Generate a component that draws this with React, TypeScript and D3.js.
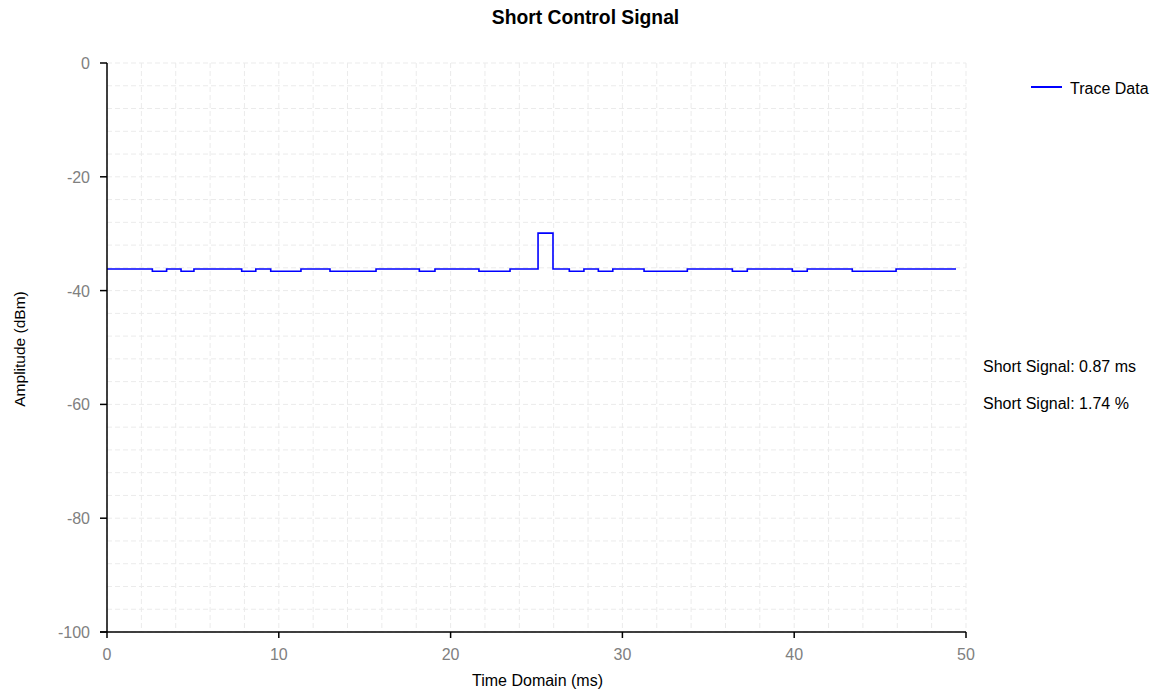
import React from "react";
import * as d3 from "d3";

const times = [0, 2.64, 3.47, 4.31, 5.06, 7.84, 8.66, 9.53, 11.29, 12.98, 15.66, 18.18, 19.09, 21.65, 23.46, 25.09, 25.96, 26.91, 27.76, 28.6, 29.44, 31.26, 33.78, 36.4, 37.27, 39.89, 40.76, 43.38, 45.93, 49.42];
const amps = [-36.2, -36.6, -36.2, -36.6, -36.2, -36.6, -36.2, -36.6, -36.2, -36.6, -36.2, -36.6, -36.2, -36.6, -36.2, -29.9, -36.2, -36.6, -36.2, -36.6, -36.2, -36.6, -36.2, -36.6, -36.2, -36.6, -36.2, -36.6, -36.2, -36.2];
const xTicks = [0, 10, 20, 30, 40, 50];
const yTicks = [0, -20, -40, -60, -80, -100];
const xGrid = d3.range(0, 51, 2);
const yGrid = d3.range(0, -101, -4);
const title = "Short Control Signal";
const xLabel = "Time Domain (ms)";
const yLabel = "Amplitude (dBm)";
const legendLabel = "Trace Data";
const notes = ["Short Signal: 0.87 ms", "Short Signal: 1.74 %"];

export default function App() {
  const W = 1160, H = 694;
  const L = 107, R = 966, T = 63, B = 632;
  const x = d3.scaleLinear().domain([0, 50]).range([L, R]);
  const y = d3.scaleLinear().domain([-100, 0]).range([B, T]);
  const pts = times.map((t, i) => [t, amps[i]] as [number, number]);
  const line = d3.line<[number, number]>().x(d => x(d[0])).y(d => y(d[1])).curve(d3.curveStepAfter);
  const font = "'Liberation Sans', Arial, sans-serif";
  return (
    <svg width={W} height={H} style={{ position: "absolute", left: 0, top: 0 }} fontFamily={font}>
      <rect width={W} height={H} fill="#fff" />
      <text x={585.5} y={23.5} textAnchor="middle" fontSize={19.3} fontWeight="bold" fill="#000">{title}</text>
      {xGrid.map(g => (
        <line key={"xg" + g} x1={x(g)} x2={x(g)} y1={T} y2={B} stroke="#ebebeb" strokeDasharray="5,3" />
      ))}
      {yGrid.map(g => (
        <line key={"yg" + g} x1={L} x2={R} y1={y(g)} y2={y(g)} stroke="#ebebeb" strokeDasharray="5,3" />
      ))}
      <path d={line(pts) || ""} fill="none" stroke="#0000ff" strokeWidth={1.6} />
      <line x1={L} x2={L} y1={T} y2={B} stroke="#000" strokeWidth={1.5} />
      <line x1={L - 7} x2={R} y1={B} y2={B} stroke="#000" strokeWidth={1.5} />
      {yTicks.map(t => (
        <g key={"yt" + t}>
          <line x1={L - 7} x2={L} y1={y(t)} y2={y(t)} stroke="#000" strokeWidth={1.5} />
          <text x={L - 17} y={y(t) + 6} textAnchor="end" fontSize={16} fill="#808080">{t}</text>
        </g>
      ))}
      {xTicks.map(t => (
        <g key={"xt" + t}>
          <line x1={x(t)} x2={x(t)} y1={B} y2={B + 6} stroke="#000" strokeWidth={1.5} />
          <text x={x(t)} y={B + 28} textAnchor="middle" fontSize={16} fill="#808080">{t}</text>
        </g>
      ))}
      <text x={537.5} y={686} textAnchor="middle" fontSize={16} fill="#000">{xLabel}</text>
      <text transform={`translate(25,349) rotate(-90)`} textAnchor="middle" fontSize={15.5} fill="#000">{yLabel}</text>
      <line x1={1031} x2={1062} y1={87} y2={87} stroke="#0000ff" strokeWidth={2} />
      <text x={1070} y={94} fontSize={16} fill="#000">{legendLabel}</text>
      {notes.map((n, i) => (
        <text key={n} x={983} y={371.5 + i * 37} fontSize={16} fill="#000">{n}</text>
      ))}
    </svg>
  );
}
